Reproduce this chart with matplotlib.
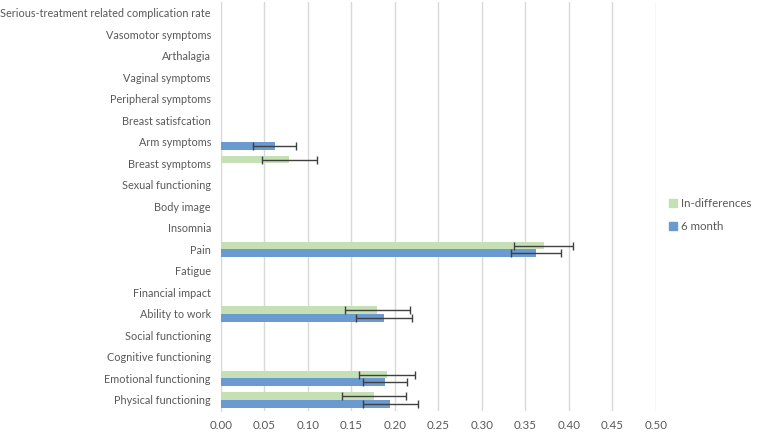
import numpy as np
import matplotlib
matplotlib.use("Agg")
import matplotlib.pyplot as plt
from matplotlib.patches import Patch

plt.rcParams['font.family'] = ['Lato', 'DejaVu Sans']

# categories listed top to bottom as in the chart
categories = [
    "Serious-treatment related complication rate",
    "Vasomotor symptoms",
    "Arthalagia",
    "Vaginal symptoms",
    "Peripheral symptoms",
    "Breast satisfcation",
    "Arm symptoms",
    "Breast symptoms",
    "Sexual functioning",
    "Body image",
    "Insomnia",
    "Pain",
    "Fatigue",
    "Financial impact",
    "Ability to work",
    "Social functioning",
    "Cognitive functioning",
    "Emotional functioning",
    "Physical functioning",
]
nan = np.nan
in_diff = [nan, nan, nan, nan, nan, nan, nan, 0.079, nan, nan, nan, 0.371,
           nan, nan, 0.180, nan, nan, 0.191, 0.176]
in_diff_err = [nan, nan, nan, nan, nan, nan, nan, 0.032, nan, nan, nan, 0.034,
               nan, nan, 0.037, nan, nan, 0.032, 0.037]
six_month = [nan, nan, nan, nan, nan, nan, 0.062, nan, nan, nan, nan, 0.362,
             nan, nan, 0.188, nan, nan, 0.189, 0.195]
six_month_err = [nan, nan, nan, nan, nan, nan, 0.025, nan, nan, nan, nan, 0.029,
                 nan, nan, 0.032, nan, nan, 0.025, 0.032]
xticks = [0.0, 0.05, 0.10, 0.15, 0.20, 0.25, 0.30, 0.35, 0.40, 0.45, 0.50]

green = '#c5e0b4'
blue = '#6a9ad0'
txt = '#595959'

fig = plt.figure(figsize=(7.6, 4.32), dpi=100)
ax = fig.add_axes([0.2904, 0.0492, 0.863 - 0.2904, 0.9456])

n = len(categories)
y = np.arange(n)
h = 0.36
ekw = dict(ecolor='#404040', elinewidth=1.0, capsize=3, capthick=1.0)
ax.barh(y - h / 2, in_diff, height=h, color=green, xerr=in_diff_err, error_kw=ekw, zorder=2)
ax.barh(y + h / 2, six_month, height=h, color=blue, xerr=six_month_err, error_kw=ekw, zorder=2)

ax.set_ylim(n - 0.5, -0.5)
ax.set_yticks(y)
ax.set_yticklabels(categories, fontsize=7.8, color=txt)
ax.set_xlim(0, 0.5)
ax.set_xticks(xticks)
ax.set_xticklabels(["%.2f" % v for v in xticks], fontsize=8.3, color=txt)
ax.tick_params(axis='y', length=0, pad=7)
ax.tick_params(axis='x', length=0, pad=7)
ax.xaxis.grid(True, color='#d9d9d9', linewidth=1, zorder=0)
ax.set_axisbelow(True)
for s in ['top', 'right', 'bottom']:
    ax.spines[s].set_visible(False)
ax.spines['left'].set_color('#d9d9d9')
ax.spines['left'].set_zorder(0)

handles = [Patch(color=green, label='In-differences'), Patch(color=blue, label='6 month')]
fig.legend(handles=handles, loc='center left', bbox_to_anchor=(0.866, 1 - 215 / 432),
           frameon=False, fontsize=8.3, labelcolor=txt, handlelength=0.7, handleheight=0.7,
           handletextpad=0.4, labelspacing=1.0)

fig.savefig('out.png', dpi=100)
